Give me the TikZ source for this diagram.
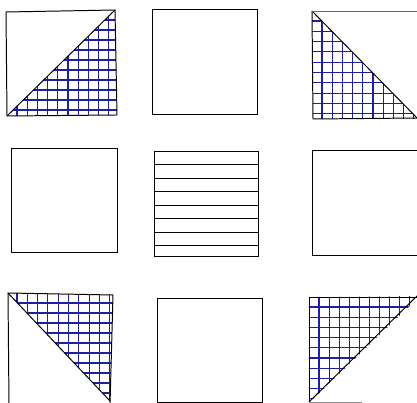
\documentclass[tikz,border=0pt]{standalone}
\usepackage{tikz}

\definecolor{gridblue}{RGB}{30,30,160}
\definecolor{edgeblue}{RGB}{60,110,200}

\begin{document}
\begin{tikzpicture}[x=0.25mm, y=-0.25mm,
    frame/.style={black, line width=0.7pt},
    gridline/.style={draw=gridblue, line width=0.75pt}]
    \path[use as bounding box] (0,0) rectangle (417,403);
    \clip (0,0) rectangle (417,403);

    % top row
    \begin{scope}
        \clip (7,116) -- (115,10) -- (117,115) -- cycle;
        \path[gridline] foreach \x in {17,27.2,...,118} {(\x,5) -- (\x,120)}
            foreach \y in {20,30,...,116} {(0,\y) -- (120,\y)};
    \end{scope}
    \draw[frame] (6,12) -- (115,10) -- (117,115) -- (7,116) -- cycle;
    \draw[frame] (7,116) -- (115,10);

    \draw[frame] (152,9) rectangle (257,114);

    \begin{scope}
        \clip (312,11) -- (313,119) -- (418,119) -- cycle;
        \path[gridline] foreach \x in {322,332.2,...,418} {(\x,5) -- (\x,125)}
            foreach \y in {21,31.3,...,119} {(305,\y) -- (420,\y)};
    \end{scope}
    \draw[frame] (312,11) -- (313,119) -- (418,118);
    \draw[frame] (312,11) -- (418,119);
    \draw[edgeblue, line width=0.7pt] (312,11) -- (420,11);

    % middle row
    \draw[frame] (11,148) rectangle (117,252);

    \draw[frame] (154,151) rectangle (258,256);
    \foreach \y in {164.5,178,...,246} \draw[frame] (154,\y) -- (258,\y);

    \draw[frame] (312,150) rectangle (420,255);

    % bottom row
    \begin{scope}
        \clip (8,293) -- (113,295) -- (110,401) -- cycle;
        \path[gridline] foreach \x in {17,27.3,...,114} {(\x,288) -- (\x,405)}
            foreach \y in {303,313,...,401} {(0,\y) -- (120,\y)};
    \end{scope}
    \draw[frame] (9,405) -- (8,293) -- (113,295) -- (110,405);
    \draw[frame] (8,293) -- (110,401);

    \draw[frame] (157,298) rectangle (262,402);

    \begin{scope}
        \clip (309,297) -- (420,296) -- (309,403) -- cycle;
        \path[gridline] foreach \x in {319,329.1,...,418} {(\x,290) -- (\x,405)}
            foreach \y in {307,317.2,...,402} {(305,\y) -- (420,\y)};
    \end{scope}
    \draw[frame] (309,402) -- (309,297) -- (420,297);
    \draw[frame] (309,402) -- (418,295);
    \draw[black!45, line width=0.7pt] (309,402) -- (362,402);
\end{tikzpicture}
\end{document}
